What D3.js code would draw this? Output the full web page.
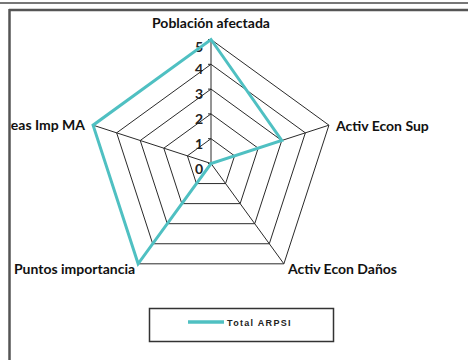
<!DOCTYPE html>
<html>
<head>
<meta charset="utf-8">
<script src="https://cdn.jsdelivr.net/npm/d3@7/dist/d3.min.js"></script>
<style>
  html, body { margin: 0; padding: 0; background: #fff; }
  svg { display: block; }
</style>
</head>
<body>
<svg id="chart" width="468" height="360"></svg>
<script>
// Radar chart: risk factors for the ARPSI total
const axes = ["Población afectada", "Activ Econ Sup", "Activ Econ Daños", "Puntos importancia", "Areas Imp MA"];
const totalARPSI = [5, 3, 0, 5, 5];
const ticks = [0, 1, 2, 3, 4, 5];
const seriesName = "Total ARPSI";

const svg = d3.select("#chart");
const W = 468, H = 360;
const cx = 211, cy = 163.5, R = 124;
const teal = "#4fc0c2";
const gridColor = "#2a2a2a";

// outer frame
svg.append("line").attr("x1", 0).attr("x2", W).attr("y1", 3).attr("y2", 3)
  .attr("stroke", "#777").attr("stroke-width", 2);
svg.append("line").attr("x1", 9).attr("x2", W).attr("y1", 10).attr("y2", 10)
  .attr("stroke", "#555").attr("stroke-width", 2.5);
svg.append("line").attr("x1", 9.5).attr("x2", 9.5).attr("y1", 9).attr("y2", H)
  .attr("stroke", "#555").attr("stroke-width", 2.5);

svg.append("defs").append("clipPath").attr("id", "plotClip")
  .append("rect").attr("x", 11).attr("y", 11).attr("width", W - 11).attr("height", H - 11);

const g = svg.append("g").attr("clip-path", "url(#plotClip)");

const r = d3.scaleLinear().domain([0, 5]).range([0, R]);
const angle = d3.scalePoint().domain(axes).range([0, 2 * Math.PI * (axes.length - 1) / axes.length]);
const pt = (name, v) => {
  const a = angle(name) - Math.PI / 2;
  return [cx + r(v) * Math.cos(a), cy + r(v) * Math.sin(a)];
};

// concentric pentagons
ticks.filter(t => t > 0).forEach(t => {
  g.append("path")
    .attr("d", d3.line()(axes.map(a => pt(a, t))) + "Z")
    .attr("fill", "none").attr("stroke", gridColor).attr("stroke-width", 1);
});

// spokes
axes.forEach(a => {
  const [x, y] = pt(a, 5);
  g.append("line").attr("x1", cx).attr("y1", cy).attr("x2", x).attr("y2", y)
    .attr("stroke", gridColor).attr("stroke-width", 1);
});

// tick marks and labels on the first axis
ticks.forEach(t => {
  const [x, y] = pt(axes[0], t);
  g.append("line").attr("x1", x - 3).attr("x2", x).attr("y1", y).attr("y2", y)
    .attr("stroke", gridColor).attr("stroke-width", 1);
  g.append("text").attr("x", x - 8).attr("y", y + (t === 5 ? 12 : 10))
    .attr("text-anchor", "end")
    .attr("font-family", "Lato, 'Open Sans', sans-serif")
    .attr("font-weight", "bold").attr("font-size", 14)
    .attr("fill", "#222")
    .text(t);
});

// series
g.append("path")
  .attr("d", d3.line()(axes.map((a, i) => pt(a, totalARPSI[i]))) + "Z")
  .attr("fill", "none").attr("stroke", teal).attr("stroke-width", 3)
  .attr("stroke-linejoin", "miter");

// axis labels
const labelFont = (sel) => sel.attr("font-family", "Lato, 'Open Sans', sans-serif")
  .attr("font-weight", "bold").attr("font-size", 14).attr("fill", "#111");
const labelPos = [
  { dx: 0, dy: -12, anchor: "middle" },
  { dx: 7, dy: 6, anchor: "start" },
  { dx: 4, dy: 10, anchor: "start" },
  { dx: -3, dy: 10, anchor: "end" },
  { dx: -8, dy: 5, anchor: "end" }
];
axes.forEach((a, i) => {
  const [x, y] = pt(a, 5);
  g.append("text").attr("x", x + labelPos[i].dx).attr("y", y + labelPos[i].dy)
    .attr("text-anchor", labelPos[i].anchor)
    .call(labelFont)
    .text(a);
});

// legend
const lg = svg.append("g");
lg.append("rect").attr("x", 149.5).attr("y", 308.5).attr("width", 184).attr("height", 33)
  .attr("fill", "#fff").attr("stroke", "#333").attr("stroke-width", 1.5);
lg.append("line").attr("x1", 188).attr("x2", 224).attr("y1", 322).attr("y2", 322)
  .attr("stroke", teal).attr("stroke-width", 3.5);
lg.append("text").attr("x", 227).attr("y", 326)
  .attr("font-family", "'Liberation Sans', Arial, sans-serif")
  .attr("font-weight", "bold").attr("font-size", 9)
  .attr("letter-spacing", 1.3).attr("fill", "#222")
  .text(seriesName);
</script>
</body>
</html>
